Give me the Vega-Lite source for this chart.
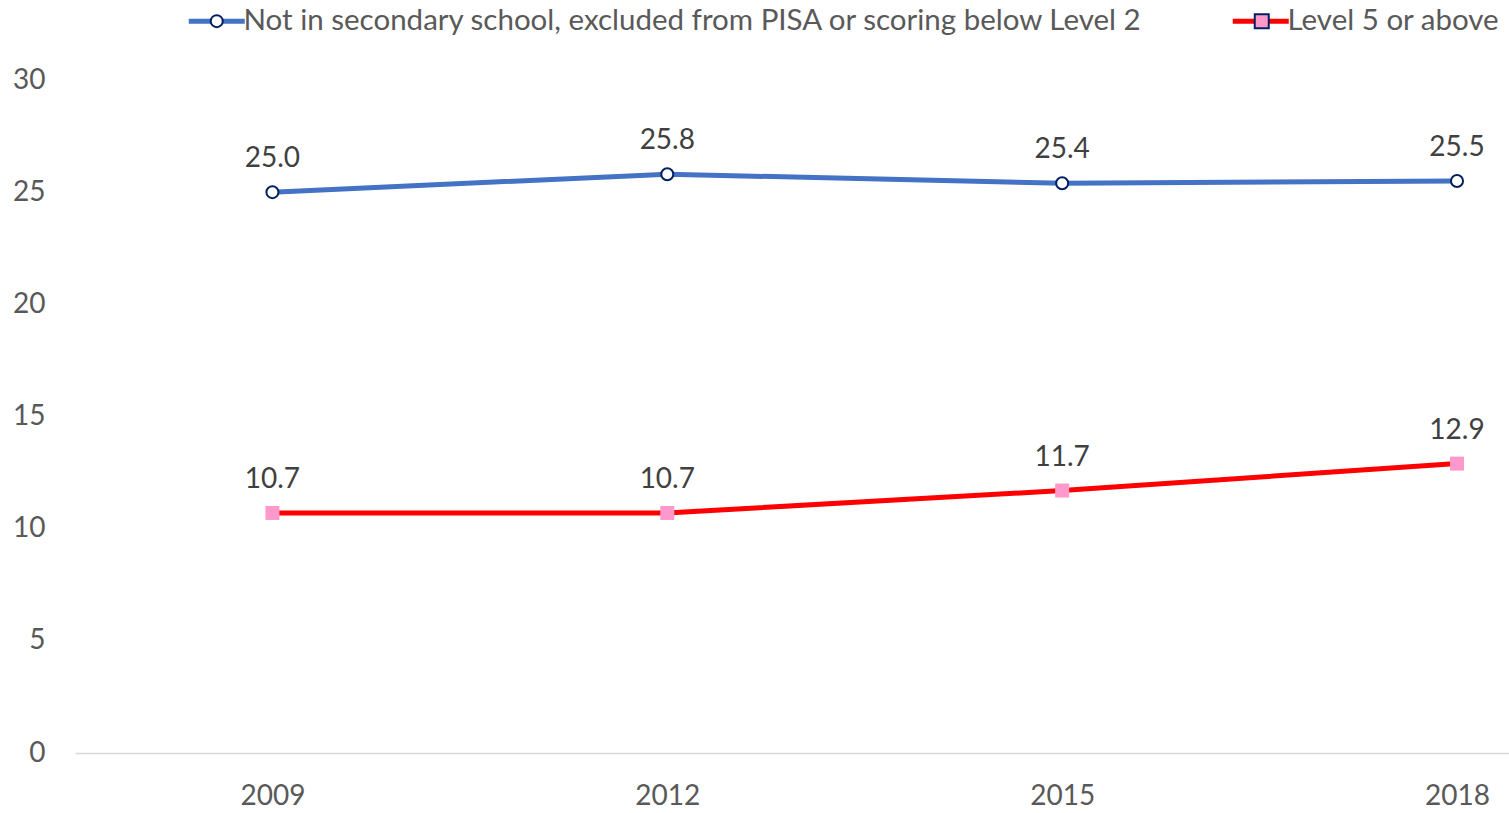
{
  "$schema": "https://vega.github.io/schema/vega-lite/v6.json",
  "width": 1434,
  "height": 673,
  "autosize": {"type": "none"},
  "padding": {"left": 75, "top": 80, "right": 0, "bottom": 60},
  "background": "white",
  "config": {"view": {"stroke": null}, "font": "Lato"},
  "data": {
    "values": [
      {"year": 2009, "series": "Not in secondary school, excluded from PISA or scoring below Level 2", "value": 25.0},
      {"year": 2012, "series": "Not in secondary school, excluded from PISA or scoring below Level 2", "value": 25.8},
      {"year": 2015, "series": "Not in secondary school, excluded from PISA or scoring below Level 2", "value": 25.4},
      {"year": 2018, "series": "Not in secondary school, excluded from PISA or scoring below Level 2", "value": 25.5},
      {"year": 2009, "series": "Level 5 or above", "value": 10.7},
      {"year": 2012, "series": "Level 5 or above", "value": 10.7},
      {"year": 2015, "series": "Level 5 or above", "value": 11.7},
      {"year": 2018, "series": "Level 5 or above", "value": 12.9}
    ]
  },
  "encoding": {
    "x": {
      "field": "year",
      "type": "quantitative",
      "scale": {"domain": [2007.5, 2018.395], "nice": false, "zero": false},
      "axis": {
        "title": null,
        "values": [2009, 2012, 2015, 2018],
        "format": "d",
        "grid": false,
        "ticks": false,
        "domainColor": "#d9d9d9",
        "domainWidth": 1.5,
        "labelFontSize": 28,
        "labelColor": "#595959",
        "labelPadding": 29,
        "labelFlush": false
      }
    },
    "y": {
      "field": "value",
      "type": "quantitative",
      "scale": {"domain": [0, 30], "nice": false},
      "axis": {
        "title": null,
        "values": [0, 5, 10, 15, 20, 25, 30],
        "grid": false,
        "ticks": false,
        "domain": false,
        "labelFontSize": 28,
        "labelColor": "#595959",
        "labelPadding": 30
      }
    }
  },
  "layer": [
    {
      "mark": {"type": "line", "strokeWidth": 5},
      "encoding": {
        "stroke": {
          "field": "series",
          "type": "nominal",
          "scale": {
            "domain": ["Not in secondary school, excluded from PISA or scoring below Level 2", "Level 5 or above"],
            "range": ["#4472C4", "#FF0000"]
          },
          "legend": {
            "orient": "none",
            "legendX": 127,
            "legendY": -74,
            "direction": "horizontal",
            "title": null,
            "symbolType": "M-2.8,0H2.8",
            "symbolSize": 400,
            "symbolStrokeWidth": 5,
            "labelFontSize": 29.5,
            "labelColor": "#595959",
            "labelOffset": 12,
            "columnPadding": 78,
            "labelLimit": 1000,
            "padding": 0
          }
        }
      }
    },
    {
      "mark": {"type": "point", "filled": true, "size": 400, "stroke": "#002060", "strokeWidth": 2, "opacity": 1},
      "encoding": {
        "shape": {
          "field": "series",
          "type": "nominal",
          "sort": null,
          "scale": {
            "range": ["M0.6,0A0.6,0.6 0 1,1 -0.6,0A0.6,0.6 0 1,1 0.6,0Z", "M-0.7,-0.7H0.7V0.7H-0.7Z"]
          },
          "legend": {
            "orient": "none",
            "legendX": 127,
            "legendY": -74,
            "direction": "horizontal",
            "title": null,
            "symbolSize": 400,
            "symbolStrokeWidth": 2,
            "labelFontSize": 29.5,
            "labelOpacity": 0,
            "labelOffset": 12,
            "columnPadding": 103,
            "labelLimit": 1000,
            "padding": 0,
            "encode": {
              "symbols": {
                "stroke": {"condition": {"test": "datum.index === 1", "value": "#FF99CC"}, "value": "#002060"}
              }
            }
          }
        },
        "fill": {
          "field": "series",
          "type": "nominal",
          "sort": null,
          "scale": {
            "range": ["#FFFFFF", "#FF99CC"]
          },
          "legend": {
            "orient": "none",
            "legendX": 127,
            "legendY": -74,
            "direction": "horizontal",
            "title": null,
            "symbolSize": 400,
            "symbolStrokeWidth": 2,
            "labelFontSize": 29.5,
            "labelOpacity": 0,
            "labelOffset": 12,
            "columnPadding": 103,
            "labelLimit": 1000,
            "padding": 0,
            "encode": {
              "symbols": {
                "stroke": {"condition": {"test": "datum.index === 1", "value": "#FF99CC"}, "value": "#002060"}
              }
            }
          }
        },
        "strokeOpacity": {
          "field": "series",
          "type": "nominal",
          "sort": null,
          "scale": {
            "range": [1, 0]
          },
          "legend": null
        }
      }
    },
    {
      "mark": {"type": "text", "dy": -33, "fontSize": 28, "color": "#404040", "baseline": "middle"},
      "encoding": {
        "text": {"field": "value", "type": "quantitative", "format": ".1f"}
      }
    }
  ]
}
